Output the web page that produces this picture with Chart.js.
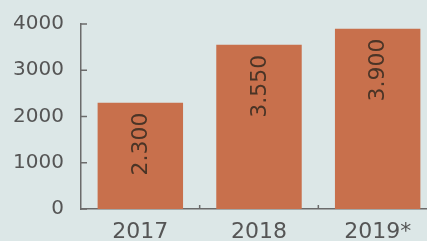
<!DOCTYPE html>
<html>
<head>
<meta charset="utf-8">
<script src="https://cdn.jsdelivr.net/npm/chart.js@4"></script>
<style>
    html, body { margin: 0; padding: 0; overflow: hidden; background: #dce7e7; }
    #wrap { position: relative; width: 437px; height: 241px; }
</style>
</head>
<body>
<div id="wrap"><canvas id="chart"></canvas></div>
<script>
const years = ['2017', '2018', '2019*'];
const amounts = [2300, 3550, 3900];
const amountLabels = ['2.300', '3.550', '3.900'];
const yTicks = [0, 1000, 2000, 3000, 4000];

const axisColor = '#6b6b6b';

// value labels drawn vertically near the top of each bar
const barLabels = {
    id: 'barLabels',
    afterDatasetsDraw(chart) {
        const ctx = chart.ctx;
        const meta = chart.getDatasetMeta(0);
        ctx.save();
        ctx.fillStyle = '#4a3426';
        ctx.font = '22px "DejaVu Sans"';
        meta.data.forEach((bar, i) => {
            ctx.save();
            ctx.translate(bar.x, bar.y + 10);
            ctx.rotate(-Math.PI / 2);
            ctx.textAlign = 'right';
            ctx.textBaseline = 'middle';
            ctx.fillText(amountLabels[i], 0, 1);
            ctx.restore();
        });
        ctx.restore();
    }
};

// short ticks pointing into the plot
const innerTicks = {
    id: 'innerTicks',
    afterDraw(chart) {
        const ctx = chart.ctx;
        const area = chart.chartArea;
        const y = chart.scales.y;
        const x = chart.scales.x;
        ctx.save();
        ctx.strokeStyle = axisColor;
        ctx.lineWidth = 1.5;
        ctx.beginPath();
        yTicks.forEach(v => {
            const py = y.getPixelForValue(v);
            ctx.moveTo(area.left, py);
            ctx.lineTo(area.left + 6, py);
        });
        for (let i = 1; i < years.length; i++) {
            const px = (x.getPixelForValue(i - 1) + x.getPixelForValue(i)) / 2;
            ctx.moveTo(px, area.bottom);
            ctx.lineTo(px, area.bottom - 4);
        }
        ctx.stroke();
        ctx.restore();
    }
};

new Chart(document.getElementById('chart'), {
    type: 'bar',
    data: {
        labels: years,
        datasets: [{
            data: amounts,
            backgroundColor: '#c8704c',
            barPercentage: 0.72,
            categoryPercentage: 1
        }]
    },
    options: {
        responsive: true,
        maintainAspectRatio: false,
        animation: false,
        layout: { padding: { top: 24, right: 0, left: 0, bottom: 0 } },
        plugins: {
            legend: { display: false },
            tooltip: { enabled: false }
        },
        scales: {
            x: {
                grid: { display: false },
                border: { color: axisColor, width: 1.5 },
                ticks: {
                    color: '#555',
                    font: { family: 'DejaVu Sans', size: 22 },
                    padding: 2
                },
                afterFit: (scale) => { scale.height = 32; }
            },
            y: {
                min: 0,
                max: 4000,
                grid: { display: false },
                border: { color: axisColor, width: 1.5 },
                ticks: {
                    stepSize: 1000,
                    color: '#555',
                    font: { family: 'DejaVu Sans', size: 20 },
                    padding: 9,
                    callback: (v) => String(v)
                },
                afterFit: (scale) => { scale.width = 81; }
            }
        }
    },
    plugins: [barLabels, innerTicks]
});
</script>
</body>
</html>
